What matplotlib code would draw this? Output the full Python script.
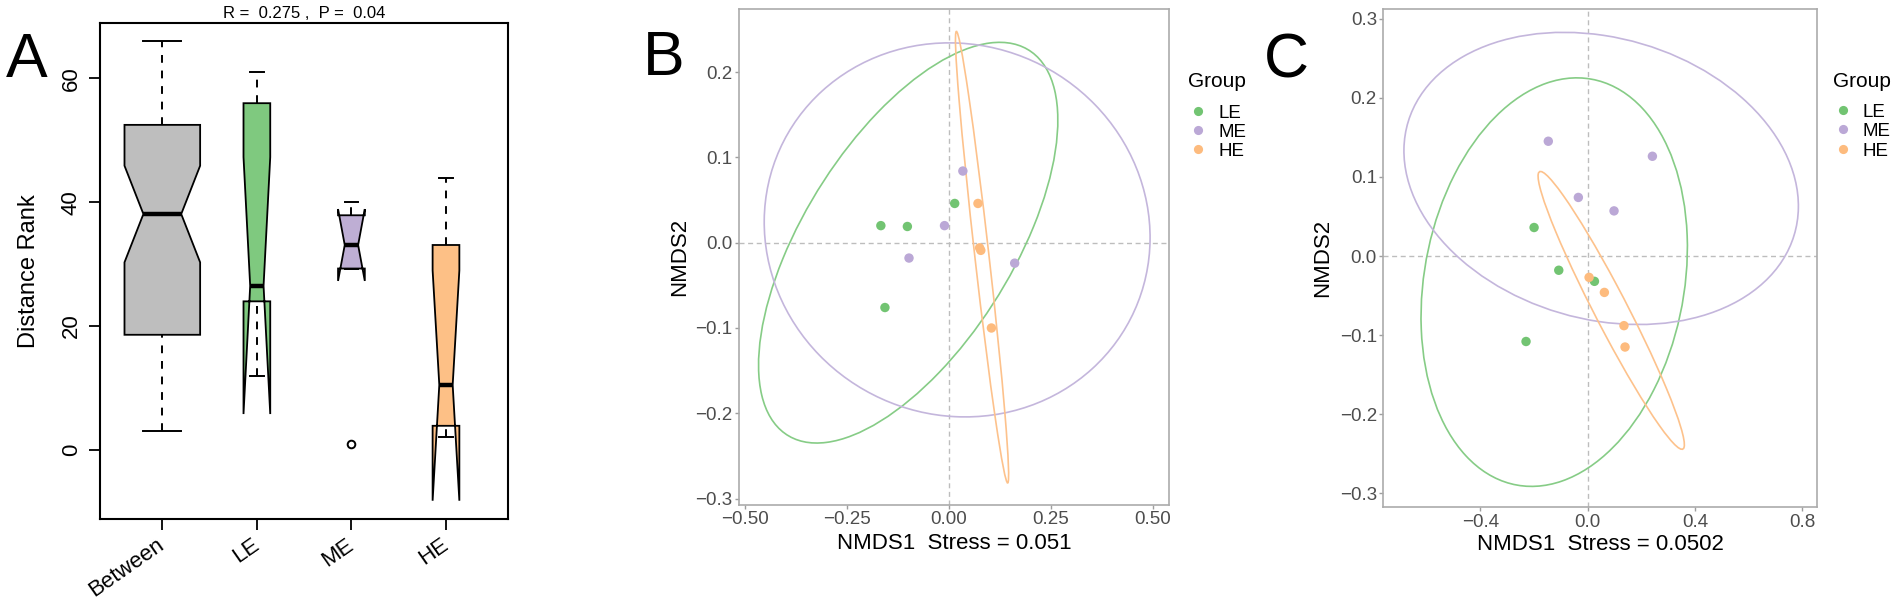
import numpy as np
import matplotlib

matplotlib.use("Agg")
from matplotlib import pyplot as plt
from matplotlib.patches import Polygon, Ellipse
from matplotlib.lines import Line2D
from matplotlib.ticker import FuncFormatter

plt.rcParams["font.family"] = ["Liberation Sans", "DejaVu Sans"]

# ---- panel A: ANOSIM distance ranks (R style notched boxplot, varwidth)
box_groups = ["Between", "LE", "ME", "HE"]
box_n = [48, 6, 6, 6]
box_whisk_lo = [3.0, 11.9, 29.3, 2.1]
box_q1 = [18.6, 24.0, 29.3, 3.9]
box_med = [38.1, 26.5, 33.1, 10.5]
box_q3 = [52.5, 56.0, 37.9, 33.1]
box_whisk_hi = [66.0, 61.1, 40.1, 44.0]
box_notch_lo = [30.3, 5.8, 27.3, -8.2]
box_notch_hi = [45.9, 47.3, 38.9, 29.0]
out_group = ["ME"]
out_value = [1.0]
box_colors = ["#BEBEBE", "#7FC97F", "#BEAED4", "#FDC086"]
a_yticks = [0, 20, 40, 60]
anosim_text = "R =  0.275 ,  P =  0.04"

# ---- panels B and C: NMDS
groups = ["LE", "ME", "HE"]
pt_colors = ["#72C472", "#BBA8D6", "#FDBB7E"]
ell_colors = ["#86CC86", "#C4B6DC", "#FDC28C"]

b_x = [[-0.167, -0.102, 0.014, -0.157],
       [0.034, -0.011, -0.098, 0.161],
       [0.071, 0.075, 0.078, 0.104]]
b_y = [[0.020, 0.019, 0.046, -0.076],
       [0.084, 0.020, -0.018, -0.024],
       [0.046, -0.006, -0.009, -0.100]]
b_ell_cx = [-0.100, 0.020, 0.081]
b_ell_cy = [0.000, 0.015, -0.017]
b_ell_a = [0.401, 0.473, 0.272]
b_ell_b = [0.170, 0.219, 0.017]
b_ell_ang = [26.5, -1.4, 103.4]
b_xticks = [-0.5, -0.25, 0.0, 0.25, 0.5]
b_yticks = [-0.3, -0.2, -0.1, 0.0, 0.1, 0.2]
b_stress = "NMDS1  Stress = 0.051"

c_x = [[-0.200, -0.108, 0.025, -0.230],
       [-0.147, 0.241, -0.035, 0.098],
       [0.005, 0.062, 0.135, 0.139]]
c_y = [[0.036, -0.018, -0.032, -0.108],
       [0.145, 0.126, 0.074, 0.057],
       [-0.027, -0.046, -0.088, -0.115]]
c_ell_cx = [-0.125, 0.050, 0.0875]
c_ell_cy = [-0.033, 0.098, -0.0687]
c_ell_a = [0.499, 0.736, 0.322]
c_ell_b = [0.253, 0.181, 0.038]
c_ell_ang = [6.8, -2.9, 147.6]
c_xticks = [-0.4, 0.0, 0.4, 0.8]
c_yticks = [-0.3, -0.2, -0.1, 0.0, 0.1, 0.2, 0.3]
c_stress = "NMDS1  Stress = 0.0502"

W, H = 1902, 602
fig = plt.figure(figsize=(W / 100, H / 100), dpi=100)


def px_axes(l, t, r, b):
    return fig.add_axes([l / W, 1 - b / H, (r - l) / W, (b - t) / H])


def minus_fmt(dec):
    return FuncFormatter(lambda v, p: f"{v:.{dec}f}".replace("-", "\u2212"))


# ------------------------------------------------------------ panel A
ax = px_axes(100, 22.7, 508.3, 519.3)
maxn = max(box_n)
for i, g in enumerate(box_groups):
    x = i + 1
    w = 0.4 * np.sqrt(box_n[i] / maxn)
    q1, md, q3 = box_q1[i], box_med[i], box_q3[i]
    nlo, nhi = box_notch_lo[i], box_notch_hi[i]
    xy = [(x - w, q1), (x + w, q1), (x + w, nlo), (x + w / 2, md), (x + w, nhi),
          (x + w, q3), (x - w, q3), (x - w, nhi), (x - w / 2, md), (x - w, nlo)]
    ax.add_patch(Polygon(xy, closed=True, facecolor=box_colors[i],
                         edgecolor="black", lw=1.3, zorder=2))
    ax.plot([x - w / 2, x + w / 2], [md, md], color="black", lw=3.2,
            solid_capstyle="butt", zorder=3)
    ax.plot([x, x], [box_whisk_lo[i], q1], color="black", lw=1.4,
            linestyle=(0, (4, 4)), zorder=3)
    ax.plot([x, x], [q3, box_whisk_hi[i]], color="black", lw=1.4,
            linestyle=(0, (4, 4)), zorder=3)
    for v in (box_whisk_lo[i], box_whisk_hi[i]):
        ax.plot([x - w / 2, x + w / 2], [v, v], color="black", lw=1.4, zorder=3)
for g, v in zip(out_group, out_value):
    ax.plot(box_groups.index(g) + 1, v, "o", mfc="none", mec="black",
            ms=5.5, mew=1.4, zorder=4)
ax.set_xlim(0.341, 4.659)
ax.set_ylim(-11.2, 69.0)
ax.set_yticks(a_yticks)
ax.set_yticklabels([str(t) for t in a_yticks], rotation=90, va="center")
ax.set_xticks(range(1, len(box_groups) + 1))
ax.set_xticklabels(box_groups, rotation=35, ha="right", va="center",
                   rotation_mode="anchor")
ax.tick_params(axis="both", length=8, width=1.3, labelsize=16)
ax.tick_params(axis="y", pad=5)
ax.tick_params(axis="x", pad=9)
for s in ax.spines.values():
    s.set_linewidth(1.5)
ax.text(-0.175, 0.5, "Distance Rank", transform=ax.transAxes, rotation=90,
        ha="center", va="center", fontsize=17)
fig.text(304 / W, 1 - 18.3 / H, anosim_text, ha="center", va="baseline",
         fontsize=12)


# ------------------------------------------------------------ panels B, C
def nmds_panel(ax, xs, ys, cx, cy, ea, eb, eang, xticks, yticks, xlim, ylim,
               xdec, stress, ylab_x, xlab_y):
    ax.axhline(0, color="#BDBDBD", lw=1.0, linestyle=(0, (3.6, 2.6)), zorder=1)
    ax.axvline(0, color="#BDBDBD", lw=1.0, linestyle=(0, (3.6, 2.6)), zorder=1)
    for k in range(len(groups)):
        ax.add_patch(Ellipse((cx[k], cy[k]), 2 * ea[k], 2 * eb[k], angle=eang[k],
                             fill=False, edgecolor=ell_colors[k], lw=1.2, zorder=2))
        ax.scatter(xs[k], ys[k], s=46, color=pt_colors[k], edgecolors="none",
                   zorder=3)
    ax.set_xlim(*xlim)
    ax.set_ylim(*ylim)
    ax.set_xticks(xticks)
    ax.set_yticks(yticks)
    ax.xaxis.set_major_formatter(minus_fmt(xdec))
    ax.yaxis.set_major_formatter(minus_fmt(1))
    ax.tick_params(axis="both", length=2.6, width=1.0, color="#9E9E9E",
                   labelsize=13.5, labelcolor="#4D4D4D", pad=2)
    for s in ax.spines.values():
        s.set_color("#ABABAB")
        s.set_linewidth(1.2)
    ax.text(ylab_x, 0.5, "NMDS2", transform=ax.transAxes, rotation=90,
            ha="center", va="center", fontsize=16)
    ax.text(0.5, xlab_y, stress, transform=ax.transAxes, ha="center",
            va="baseline", fontsize=16)


def group_legend(x0, y0):
    fig.text(x0 / W, 1 - y0 / H, "Group", fontsize=15, va="baseline")
    for k, g in enumerate(groups):
        yy = y0 + 23.5 + 19.3 * k
        fig.add_artist(Line2D([(x0 + 9.5) / W], [1 - yy / H], marker="o",
                              ms=6.6, color=pt_colors[k], mec="none",
                              transform=fig.transFigure))
        fig.text((x0 + 30) / W, 1 - (yy + 6.7) / H, g, fontsize=13.5,
                 va="baseline")


axb = px_axes(739, 9.3, 1169.3, 505)
nmds_panel(axb, b_x, b_y, b_ell_cx, b_ell_cy, b_ell_a, b_ell_b, b_ell_ang,
           b_xticks, b_yticks, (-0.5147, 0.540), (-0.3075, 0.2736), 2,
           b_stress, -0.1383, -0.0888)
group_legend(1188, 87.3)

axc = px_axes(1383.3, 9.3, 1816.6, 507.3)
nmds_panel(axc, c_x, c_y, c_ell_cx, c_ell_cy, c_ell_a, c_ell_b, c_ell_ang,
           c_xticks, c_yticks, (-0.762, 0.853), (-0.3175, 0.3117), 1,
           c_stress, -0.1396, -0.0857)
group_legend(1833, 86.7)

# panel letters
for lab, xp, yp in [("A", 6, 77), ("B", 643, 75), ("C", 1264, 77)]:
    fig.text(xp / W, 1 - yp / H, lab, fontsize=45, va="baseline")

fig.savefig("out.png", dpi=100)
